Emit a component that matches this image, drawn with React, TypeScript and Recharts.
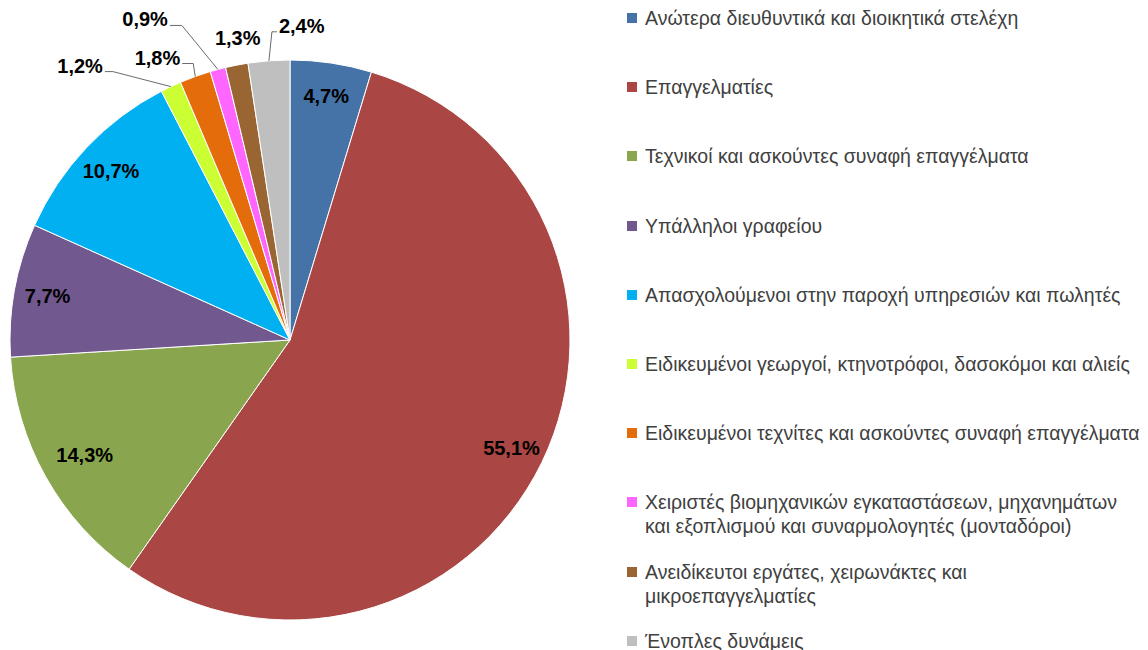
import React from "react";
import { PieChart, Pie, Cell, Legend } from "recharts";

const categories = [
    "Ανώτερα διευθυντικά και διοικητικά στελέχη",
    "Επαγγελματίες",
    "Τεχνικοί και ασκούντες συναφή επαγγέλματα",
    "Υπάλληλοι γραφείου",
    "Απασχολούμενοι στην παροχή υπηρεσιών και πωλητές",
    "Ειδικευμένοι γεωργοί, κτηνοτρόφοι, δασοκόμοι και αλιείς",
    "Ειδικευμένοι τεχνίτες και ασκούντες συναφή επαγγέλματα",
    "Χειριστές βιομηχανικών εγκαταστάσεων, μηχανημάτων\nκαι εξοπλισμού και συναρμολογητές (μονταδόροι)",
    "Ανειδίκευτοι εργάτες, χειρωνάκτες και\nμικροεπαγγελματίες",
    "Ένοπλες δυνάμεις",
];

const shares = [4.7, 55.1, 14.3, 7.7, 10.7, 1.2, 1.8, 0.9, 1.3, 2.4];

const colors = [
    "#4572A7",
    "#AA4643",
    "#89A54E",
    "#71588F",
    "#00B0F0",
    "#CCFF33",
    "#E46C0A",
    "#FF66FF",
    "#996633",
    "#BFBFBF",
];

const data = categories.map((name, i) => ({ name, value: shares[i] }));

// callouts for the thin slices: elbow offset from the rim, then a short tail
const callouts: Record<number, { dx: number; dy: number; tail: number } | null> = {
    5: { dx: -58, dy: -15, tail: -8 },
    6: { dx: -2, dy: -13, tail: -11 },
    7: { dx: -36, dy: -44, tail: -12 },
    8: null,
    9: { dx: 3, dy: -29, tail: 5 },
};

const RAD = Math.PI / 180;
const fmt = (v: number) => v.toFixed(1).replace(".", ",") + "%";

const labelFont = {
    fontFamily: "'Liberation Sans', Arial, sans-serif",
    fontWeight: 700,
    fontSize: 20,
    fill: "#000",
};

const renderLabel = (props: any) => {
    const { cx, cy, midAngle, outerRadius, index, value } = props;
    const cos = Math.cos(-midAngle * RAD);
    const sin = Math.sin(-midAngle * RAD);

    if (!(index in callouts)) {
        const r = outerRadius * (index === 2 ? 0.84 : 0.88);
        return (
            <text
                x={cx + r * cos}
                y={cy + r * sin}
                textAnchor="middle"
                dominantBaseline="central"
                {...labelFont}
            >
                {fmt(value)}
            </text>
        );
    }

    const ox = cx + outerRadius * cos;
    const oy = cy + outerRadius * sin;
    const c = callouts[index];
    if (!c) {
        return (
            <text x={ox + 1} y={oy - 27} textAnchor="middle" dominantBaseline="central" {...labelFont}>
                {fmt(value)}
            </text>
        );
    }
    const ex = ox + c.dx;
    const ey = oy + c.dy;
    const tx = ex + c.tail;
    const left = c.tail < 0;
    return (
        <g>
            <polyline
                points={`${ox},${oy} ${ex},${ey} ${tx},${ey}`}
                fill="none"
                stroke="#6b6b6b"
                strokeWidth={1}
            />
            <text
                x={left ? tx - 2 : tx + 2}
                y={ey - 6}
                textAnchor={left ? "end" : "start"}
                dominantBaseline="central"
                {...labelFont}
            >
                {fmt(value)}
            </text>
        </g>
    );
};

const renderLegend = () => (
    <div style={{ position: "relative", width: 528, height: 650 }}>
        {categories.map((name, i) => (
            <div
                key={name}
                style={{
                    position: "absolute",
                    left: 7,
                    top: 6 + i * 69.2,
                    display: "flex",
                    alignItems: "flex-start",
                    whiteSpace: "pre",
                    fontFamily: "'Liberation Sans', Arial, sans-serif",
                    fontSize: 19.5,
                    lineHeight: "24px",
                    color: "#404040",
                    textAlign: "left",
                }}
            >
                <span
                    style={{
                        display: "inline-block",
                        width: 10,
                        height: 10,
                        marginTop: 7,
                        marginRight: 8,
                        background: colors[i],
                    }}
                />
                <span>{name}</span>
            </div>
        ))}
    </div>
);

export default function App() {
    return (
        <div style={{ position: "absolute", left: 0, top: 0, width: 1148, height: 650, background: "#fff" }}>
            <PieChart width={1148} height={650} margin={{ top: 0, right: 0, bottom: 0, left: 0 }}>
                <Pie
                    data={data}
                    dataKey="value"
                    nameKey="name"
                    cx={290}
                    cy={340}
                    outerRadius={280}
                    startAngle={90}
                    endAngle={-270}
                    stroke="#ffffff"
                    strokeWidth={1}
                    label={renderLabel}
                    labelLine={false}
                    isAnimationActive={false}
                >
                    {data.map((d, i) => (
                        <Cell key={d.name} fill={colors[i]} />
                    ))}
                </Pie>
                <Legend
                    content={renderLegend}
                    wrapperStyle={{ position: "absolute", left: 620, top: 0, width: 528, height: 650 }}
                />
            </PieChart>
        </div>
    );
}
